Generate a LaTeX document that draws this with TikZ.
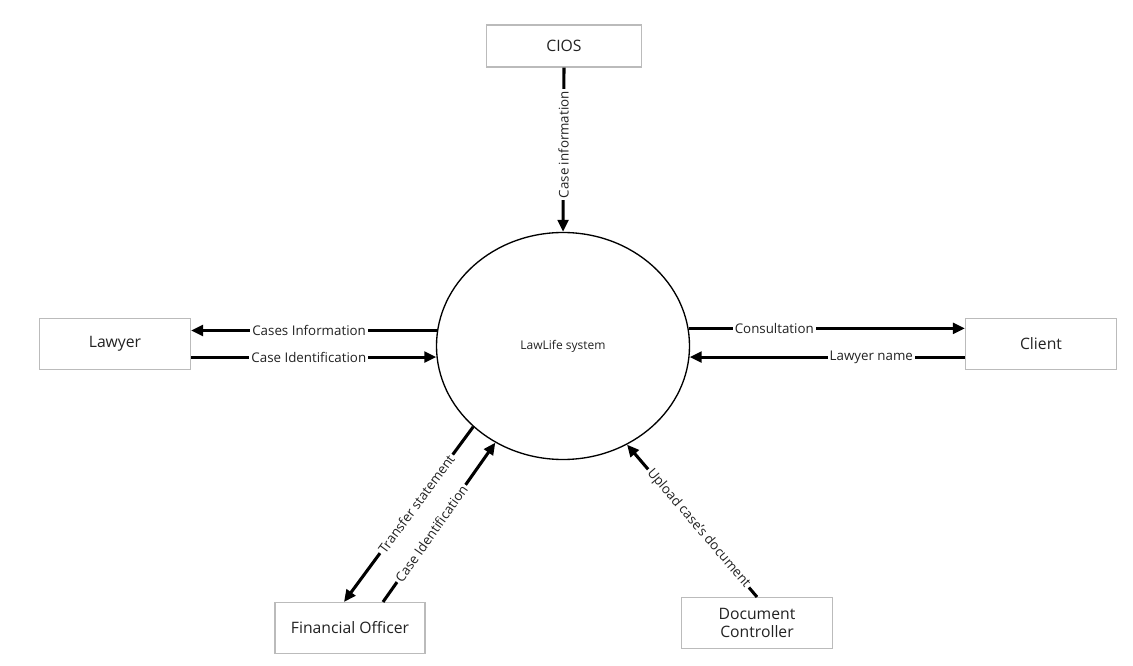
\documentclass[tikz,border=0pt]{standalone}
\usepackage{fontspec}
\setmainfont{Open Sans}
\usepackage{tikz}
\usetikzlibrary{arrows.meta,shapes.geometric}
\definecolor{boxgray}{HTML}{BBBBBB}
\definecolor{inkgray}{HTML}{222222}
\tikzstyle{block} = [draw=boxgray, line width=0.8pt, rectangle, font=\fontsize{11.8}{14}\selectfont, text=inkgray, align=center]
\tikzstyle{flow} = [line width=2.3pt, -{Triangle[length=9pt,width=8pt]}]
\tikzstyle{lbl} = [fill=white, inner sep=1.5pt, font=\fontsize{10}{12}\selectfont, text=inkgray]

\begin{document}
\begin{tikzpicture}[x=0.75pt, y=-0.75pt]
	\useasboundingbox (0,0) rectangle (1133,666);
	\node (SYS) [draw, line width=1pt, ellipse, minimum width=253*0.75pt, minimum height=227*0.75pt, font=\fontsize{9}{11}\selectfont, text=inkgray] at (563,346) {LawLife system};
	\node (CIOS) [block, minimum width=155*0.75pt, minimum height=42*0.75pt] at (564,46) {CIOS};
	\node (LAWYER) [block, minimum width=151*0.75pt, minimum height=51*0.75pt] at (115,344) {Lawyer};
	\node (CLIENT) [block, minimum width=151*0.75pt, minimum height=51*0.75pt] at (1041,344) {Client};
	\node (FO) [block, minimum width=150*0.75pt, minimum height=51*0.75pt] at (350,628) {Financial Officer};
	\node (DC) [block, minimum width=151*0.75pt, minimum height=51*0.75pt, inner sep=1pt] at (757,623) {Document\\Controller};
	% flows
	\draw[flow](CIOS.south)-- node[lbl, pos=0.47, rotate=90]{Case information} (SYS.north);
	\draw[flow](SYS.173)-- node[lbl, pos=0.52]{Cases Information} (SYS.173 -| LAWYER.east);
	\draw[flow](SYS.185 -| LAWYER.east)-- node[lbl, pos=0.48]{Case Identification} (SYS.185);
	\draw[flow](SYS.8)-- node[lbl, pos=0.31]{Consultation} (SYS.8 -| CLIENT.west);
	\draw[flow](SYS.355 -| CLIENT.west)-- node[lbl, pos=0.34]{Lawyer name} (SYS.355);
	\draw[flow](SYS.222)-- node[lbl, pos=0.44, sloped]{Transfer statement} ([xshift=-4.5pt]FO.north);
	\draw[flow]([xshift=24.75pt]FO.north)-- node[lbl, pos=0.43, sloped]{Case Identification} (SYS.235);
	\draw[flow](DC.north)-- node[lbl, pos=0.45, sloped]{Upload case's document} (SYS.303);
\end{tikzpicture}
\end{document}
